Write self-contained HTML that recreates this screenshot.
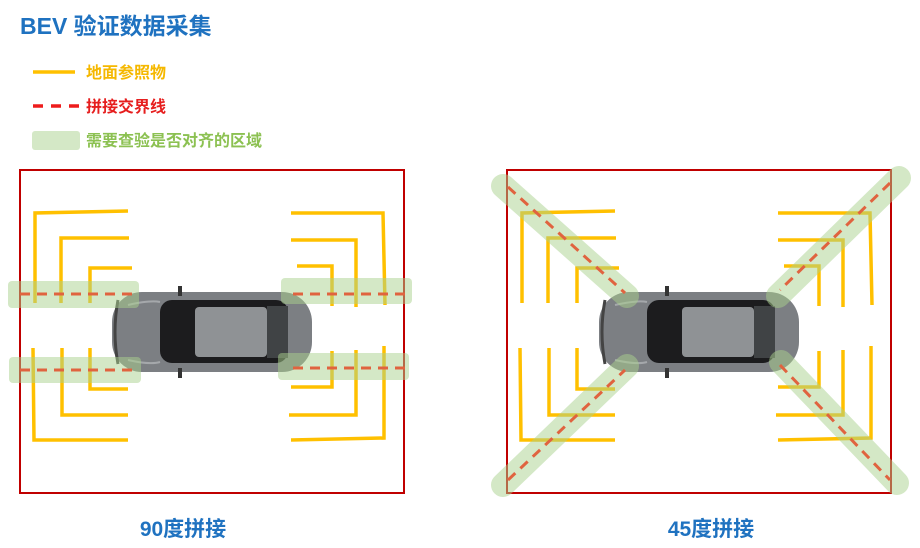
<!DOCTYPE html>
<html><head><meta charset="utf-8"><style>
html,body{margin:0;padding:0;background:#fff;width:920px;height:548px;overflow:hidden}
svg{display:block}
text{font-family:"Liberation Sans","Noto Sans CJK SC",sans-serif;font-weight:bold}
</style></head><body>
<svg width="920" height="548" viewBox="0 0 920 548" xmlns="http://www.w3.org/2000/svg">
<defs>
<g id="lines" fill="none" stroke="#ffc000" stroke-width="3.5">
<polyline points="35,303 35,213 128,211"/>
<polyline points="61,303 61,238 129,238"/>
<polyline points="90,303 90,268 132,268"/>
<polyline points="90,348 90,389 128,389"/>
<polyline points="62,348 62,415 128,415"/>
<polyline points="33,348 34,440 128,440"/>
<polyline points="291,213 383,213 385,305"/>
<polyline points="291,240 356,240 356,307"/>
<polyline points="297,266 332,266 332,306"/>
<polyline points="332,351 332,387 291,387"/>
<polyline points="356,350 356,415 289,415"/>
<polyline points="384,346 384,438 291,440"/>
</g>
<g id="car">
<rect x="112" y="292" width="200" height="80" rx="30" fill="#7c7f83"/>
<path d="M118,300 Q112,332 118,364" stroke="#444" stroke-width="3" fill="none"/>
<rect x="160" y="300" width="128" height="63" rx="12" fill="#1c1c1e"/>
<rect x="195" y="307" width="72" height="50" rx="4" fill="#8f9295"/>
<rect x="267" y="306" width="21" height="52" fill="#404345"/>
<path d="M128,305 Q150,300 160,302 M128,360 Q150,365 160,362" stroke="#a5a8ab" stroke-width="2" fill="none"/>
<rect x="178" y="286" width="4" height="10" fill="#333"/>
<rect x="178" y="368" width="4" height="10" fill="#333"/>
</g>
</defs>

<text x="20" y="34" font-size="23" fill="#1f72c0">BEV 验证数据采集</text>
<line x1="33" y1="72" x2="75" y2="72" stroke="#ffc000" stroke-width="3.5"/>
<text x="86" y="78" font-size="16" fill="#f5b800">地面参照物</text>
<line x1="33" y1="106" x2="80" y2="106" stroke="#ee1c1c" stroke-width="3.5" stroke-dasharray="10,8"/>
<text x="86" y="112" font-size="16" fill="#e61e1e">拼接交界线</text>
<rect x="32" y="131" width="48" height="19" rx="3" fill="#d4e8c6"/>
<text x="86" y="146" font-size="16" fill="#8cc152">需要查验是否对齐的区域</text>

<rect x="20" y="170" width="384" height="323" fill="none" stroke="#c00000" stroke-width="2"/>
<use href="#lines"/>
<use href="#car"/>
<g fill="rgba(169,209,142,0.5)">
<rect x="8" y="281" width="131" height="27" rx="4"/>
<rect x="9" y="357" width="132" height="26" rx="4"/>
<rect x="281" y="278" width="131" height="26" rx="4"/>
<rect x="278" y="353" width="131" height="27" rx="4"/>
</g>
<g stroke="#e0633f" stroke-width="3" stroke-dasharray="10,7">
<line x1="20" y1="294" x2="137" y2="294"/>
<line x1="20" y1="370" x2="137" y2="370"/>
<line x1="293" y1="294" x2="405" y2="294"/>
<line x1="293" y1="368" x2="405" y2="368"/>
</g>
<text x="183" y="536" font-size="21" fill="#1f72c0" text-anchor="middle">90度拼接</text>

<rect x="507" y="170" width="384" height="323" fill="none" stroke="#c00000" stroke-width="2"/>
<g transform="translate(487,0)"><use href="#lines"/><use href="#car"/></g>
<g stroke="rgba(169,209,142,0.5)" stroke-width="24" stroke-linecap="round">
<line x1="503" y1="186" x2="627" y2="296"/>
<line x1="899" y1="178" x2="778" y2="296"/>
<line x1="503" y1="485" x2="627" y2="366"/>
<line x1="781" y1="362" x2="897" y2="483"/>
</g>
<g stroke="#e0633f" stroke-width="3" stroke-dasharray="10,7">
<line x1="508" y1="187" x2="625" y2="293"/>
<line x1="890" y1="183" x2="780" y2="290"/>
<line x1="508" y1="480" x2="625" y2="370"/>
<line x1="780" y1="365" x2="890" y2="480"/>
</g>
<text x="711" y="536" font-size="21" fill="#1f72c0" text-anchor="middle">45度拼接</text>
</svg>
</body></html>
